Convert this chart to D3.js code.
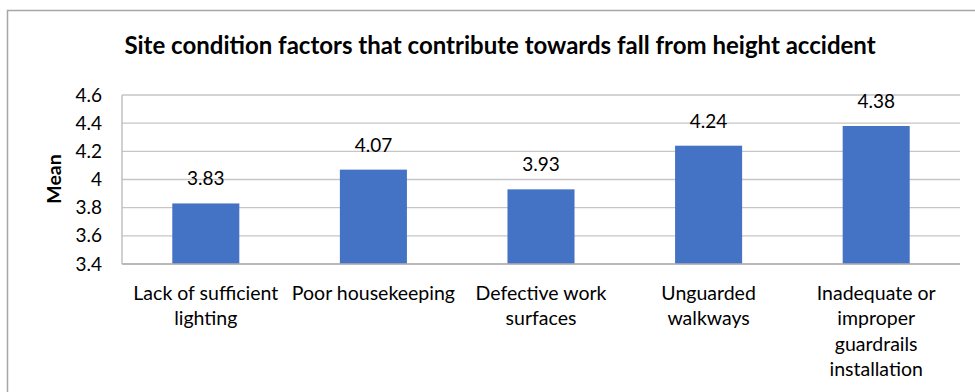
<!DOCTYPE html>
<html>
<head>
<meta charset="utf-8">
<script src="https://cdn.jsdelivr.net/npm/d3@7"></script>
<style>
    body { margin: 0; background: #fff; }
    text { font-family: Lato, "Liberation Sans", sans-serif; fill: #000; }
</style>
</head>
<body>
<script>
// Data
const categories = [
    "Lack of sufficient lighting",
    "Poor housekeeping",
    "Defective work surfaces",
    "Unguarded walkways",
    "Inadequate or improper guardrails installation"
];
// how Excel wrapped each category label
const categoryLines = [
    ["Lack of sufficient", "lighting"],
    ["Poor housekeeping"],
    ["Defective work", "surfaces"],
    ["Unguarded", "walkways"],
    ["Inadequate or", "improper", "guardrails", "installation"]
];
const means = [3.83, 4.07, 3.93, 4.24, 4.38];
const yTicks = [3.4, 3.6, 3.8, 4.0, 4.2, 4.4, 4.6];
const title = "Site condition factors that contribute towards fall from height accident";

const width = 975;
const height = 392;
const plot = { left: 122, right: 960, top: 95, bottom: 264 };

const svg = d3.select("body").append("svg")
    .attr("width", width)
    .attr("height", height);

// chart border (cropped on the right and bottom)
svg.append("rect")
    .attr("x", 7.5)
    .attr("y", 10.5)
    .attr("width", 1000)
    .attr("height", 400)
    .attr("fill", "#fff")
    .attr("stroke", "#a6a6a6")
    .attr("stroke-width", 1.5);

const x = d3.scaleBand()
    .domain(categories)
    .range([plot.left, plot.right])
    .paddingInner(0.6)
    .paddingOuter(0.3);

const y = d3.scaleLinear()
    .domain([3.4, 4.6])
    .range([plot.bottom, plot.top]);

// gridlines
svg.append("g")
    .selectAll("line")
    .data(yTicks)
    .enter().append("line")
    .attr("x1", plot.left)
    .attr("x2", plot.right)
    .attr("y1", d => y(d))
    .attr("y2", d => y(d))
    .attr("stroke", "#c6c6c6")
    .attr("stroke-width", 1.4);

// y axis line
svg.append("line")
    .attr("x1", plot.left).attr("x2", plot.left)
    .attr("y1", plot.top).attr("y2", plot.bottom)
    .attr("stroke", "#bdbdbd")
    .attr("stroke-width", 1.4);

// bars
svg.append("g")
    .selectAll("rect")
    .data(means)
    .enter().append("rect")
    .attr("x", (d, i) => x(categories[i]))
    .attr("y", d => y(d))
    .attr("width", x.bandwidth())
    .attr("height", d => y(3.4) - y(d))
    .attr("fill", "#4472c4");

// x axis line
svg.append("line")
    .attr("x1", plot.left).attr("x2", plot.right)
    .attr("y1", plot.bottom).attr("y2", plot.bottom)
    .attr("stroke", "#b0b0b0")
    .attr("stroke-width", 1.4);

// value labels
svg.append("g")
    .selectAll("text")
    .data(means)
    .enter().append("text")
    .attr("x", (d, i) => x(categories[i]) + x.bandwidth() / 2)
    .attr("y", d => y(d) - 18)
    .attr("text-anchor", "middle")
    .style("font-size", "19px")
    .text(d => d.toFixed(2));

// y tick labels
svg.append("g")
    .selectAll("text")
    .data(yTicks)
    .enter().append("text")
    .attr("x", 102)
    .attr("y", d => y(d))
    .attr("dy", "0.35em")
    .attr("text-anchor", "end")
    .style("font-size", "19px")
    .text(d => d3.format("")(+d.toFixed(1)));

// category labels
const catLabel = svg.append("g")
    .selectAll("text")
    .data(categories)
    .enter().append("text")
    .attr("text-anchor", "middle")
    .style("font-size", "19.5px");

catLabel.each(function(d, i) {
    const cx = x(d) + x.bandwidth() / 2;
    d3.select(this).selectAll("tspan")
        .data(categoryLines[i])
        .enter().append("tspan")
        .attr("x", cx)
        .attr("y", (t, j) => 300 + j * 25.3)
        .text(t => t);
});

// axis title
svg.append("text")
    .attr("transform", "translate(61,179) rotate(-90)")
    .attr("text-anchor", "middle")
    .style("font-size", "19.5px")
    .style("font-weight", "bold")
    .text("Mean");

// chart title
svg.append("text")
    .attr("x", 500)
    .attr("y", 54)
    .attr("text-anchor", "middle")
    .style("font-size", "24px")
    .style("font-weight", "bold")
    .text(title);
</script>
</body>
</html>
